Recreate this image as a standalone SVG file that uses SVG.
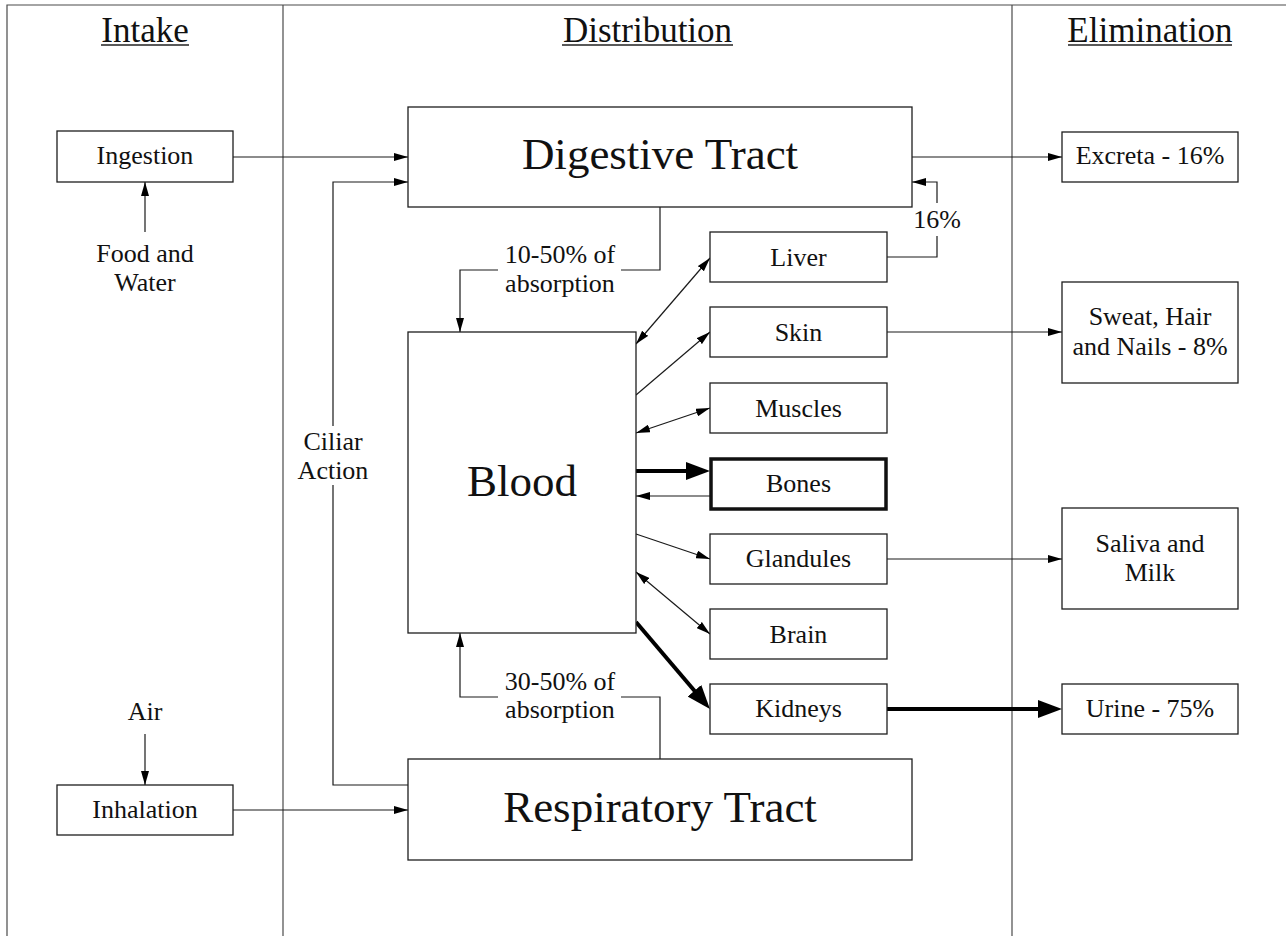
<svg xmlns="http://www.w3.org/2000/svg" width="1286" height="936" viewBox="0 0 1286 936">
  <style>
    .frame { fill: none; stroke: #4a4a4a; stroke-width: 1.2; }
    .box { fill: #ffffff; stroke: #1e1e1e; stroke-width: 1.3; }
    .box-bold { fill: #ffffff; stroke: #111111; stroke-width: 3.5; }
    .t { font-family: "Liberation Serif", "Times New Roman", serif; fill: #111111; text-anchor: middle; }
    .head { font-size: 35px; }
    .big { font-size: 45px; }
    .lbl { font-size: 26px; }
    .wire { fill: none; stroke: #1a1a1a; stroke-width: 1.2; }
    .wire-bold { fill: none; stroke: #000000; stroke-width: 4; }
    .uline { stroke: #222222; stroke-width: 1.5; }
    .mask { fill: #ffffff; stroke: none; }
  </style>
  <defs>
    <marker id="arrow" markerUnits="userSpaceOnUse" markerWidth="14" markerHeight="8" refX="14" refY="4" orient="auto-start-reverse">
      <path d="M0,0 L14,4 L0,8 z" fill="#000000"/>
    </marker>
    <marker id="arrow-bold" markerUnits="userSpaceOnUse" markerWidth="24" markerHeight="18" refX="4" refY="9" orient="auto">
      <path d="M0,0 L24,9 L0,18 z" fill="#000000"/>
    </marker>
  </defs>

  <rect width="1286" height="936" fill="#ffffff"/>

  <!-- column frame -->
  <g id="frame">
    <path class="frame" d="M7,940 V5 H1290"/>
    <line class="frame" x1="283" y1="5" x2="283" y2="940"/>
    <line class="frame" x1="1012" y1="5" x2="1012" y2="940"/>
  </g>

  <!-- column headings -->
  <g id="headings">
    <text class="t head" x="145" y="42">Intake</text>
    <line class="uline" x1="101" y1="45" x2="189" y2="45"/>
    <text class="t head" x="647.5" y="42">Distribution</text>
    <line class="uline" x1="562" y1="45" x2="733" y2="45"/>
    <text class="t head" x="1150" y="42">Elimination</text>
    <line class="uline" x1="1068" y1="45" x2="1232" y2="45"/>
  </g>

  <!-- connectors -->
  <g id="connectors">
    <path class="wire" d="M233,157 H408" marker-end="url(#arrow)"/>
    <path class="wire" d="M145,232 V182" marker-end="url(#arrow)"/>
    <path class="wire" d="M145,734 V785" marker-end="url(#arrow)"/>
    <path class="wire" d="M233,810 H408" marker-end="url(#arrow)"/>
    <path class="wire" d="M408,785 H333 V182 H408" marker-end="url(#arrow)"/>
    <path class="wire" d="M912,157 H1062" marker-end="url(#arrow)"/>
    <path class="wire" d="M887,257 H937 V182 H912" marker-end="url(#arrow)"/>
    <path class="wire" d="M660,207 V270 H460 V332" marker-end="url(#arrow)"/>
    <path class="wire" d="M660,759 V697 H460 V633" marker-end="url(#arrow)"/>
    <path class="wire" d="M636,344 L710,258" marker-start="url(#arrow)" marker-end="url(#arrow)"/>
    <path class="wire" d="M636,395 L710,332" marker-end="url(#arrow)"/>
    <path class="wire" d="M636,433 L710,408" marker-start="url(#arrow)" marker-end="url(#arrow)"/>
    <path class="wire-bold" d="M636,471 H690" marker-end="url(#arrow-bold)"/>
    <path class="wire" d="M710,496 H636" marker-end="url(#arrow)"/>
    <path class="wire" d="M636,534 L710,559" marker-end="url(#arrow)"/>
    <path class="wire" d="M636,572 L710,634" marker-start="url(#arrow)" marker-end="url(#arrow)"/>
    <path class="wire-bold" d="M636,622 L697,693.8" marker-end="url(#arrow-bold)"/>
    <path class="wire" d="M887,332 H1062" marker-end="url(#arrow)"/>
    <path class="wire" d="M887,559 H1062" marker-end="url(#arrow)"/>
    <path class="wire-bold" d="M887,709 H1042" marker-end="url(#arrow-bold)"/>

    <!-- connector labels -->
    <rect class="mask" x="313" y="426" width="40" height="59"/>
    <text class="t lbl" x="333" y="450">Ciliar</text>
    <text class="t lbl" x="333" y="479">Action</text>

    <rect class="mask" x="918" y="203" width="38" height="33"/>
    <text class="t lbl" x="937" y="228">16%</text>

    <rect class="mask" x="498" y="244" width="123" height="56"/>
    <text class="t lbl" x="560" y="263">10-50% of</text>
    <text class="t lbl" x="560" y="292">absorption</text>

    <rect class="mask" x="498" y="670" width="123" height="56"/>
    <text class="t lbl" x="560" y="690">30-50% of</text>
    <text class="t lbl" x="560" y="718">absorption</text>
  </g>

  <!-- intake -->
  <g id="ingestion">
    <rect class="box" x="57" y="131" width="176" height="51"/>
    <text class="t lbl" x="145" y="164">Ingestion</text>
  </g>
  <g id="food-water">
    <text class="t lbl" x="145" y="262">Food and</text>
    <text class="t lbl" x="145" y="291">Water</text>
  </g>
  <g id="air">
    <text class="t lbl" x="145" y="720">Air</text>
  </g>
  <g id="inhalation">
    <rect class="box" x="57" y="785" width="176" height="50"/>
    <text class="t lbl" x="145" y="818">Inhalation</text>
  </g>

  <!-- distribution -->
  <g id="digestive-tract">
    <rect class="box" x="408" y="107" width="504" height="100"/>
    <text class="t big" x="660" y="169">Digestive Tract</text>
  </g>
  <g id="blood">
    <rect class="box" x="408" y="332" width="228" height="301"/>
    <text class="t big" x="522" y="496">Blood</text>
  </g>
  <g id="respiratory-tract">
    <rect class="box" x="408" y="759" width="504" height="101"/>
    <text class="t big" x="660" y="822">Respiratory Tract</text>
  </g>
  <g id="liver">
    <rect class="box" x="710" y="232" width="177" height="50"/>
    <text class="t lbl" x="798.5" y="266">Liver</text>
  </g>
  <g id="skin">
    <rect class="box" x="710" y="307" width="177" height="50"/>
    <text class="t lbl" x="798.5" y="341">Skin</text>
  </g>
  <g id="muscles">
    <rect class="box" x="710" y="383" width="177" height="50"/>
    <text class="t lbl" x="798.5" y="417">Muscles</text>
  </g>
  <g id="bones">
    <rect class="box-bold" x="711" y="459" width="175" height="50"/>
    <text class="t lbl" x="798.5" y="492">Bones</text>
  </g>
  <g id="glandules">
    <rect class="box" x="710" y="534" width="177" height="50"/>
    <text class="t lbl" x="798.5" y="567">Glandules</text>
  </g>
  <g id="brain">
    <rect class="box" x="710" y="609" width="177" height="50"/>
    <text class="t lbl" x="798.5" y="643">Brain</text>
  </g>
  <g id="kidneys">
    <rect class="box" x="710" y="684" width="177" height="50"/>
    <text class="t lbl" x="798.5" y="717">Kidneys</text>
  </g>

  <!-- elimination -->
  <g id="excreta">
    <rect class="box" x="1062" y="132" width="176" height="50"/>
    <text class="t lbl" x="1150" y="164">Excreta - 16%</text>
  </g>
  <g id="sweat-hair-nails">
    <rect class="box" x="1062" y="282" width="176" height="101"/>
    <text class="t lbl" x="1150" y="325">Sweat, Hair</text>
    <text class="t lbl" x="1150" y="355">and Nails - 8%</text>
  </g>
  <g id="saliva-milk">
    <rect class="box" x="1062" y="508" width="176" height="101"/>
    <text class="t lbl" x="1150" y="552">Saliva and</text>
    <text class="t lbl" x="1150" y="581">Milk</text>
  </g>
  <g id="urine">
    <rect class="box" x="1062" y="684" width="176" height="50"/>
    <text class="t lbl" x="1150" y="717">Urine - 75%</text>
  </g>
</svg>
